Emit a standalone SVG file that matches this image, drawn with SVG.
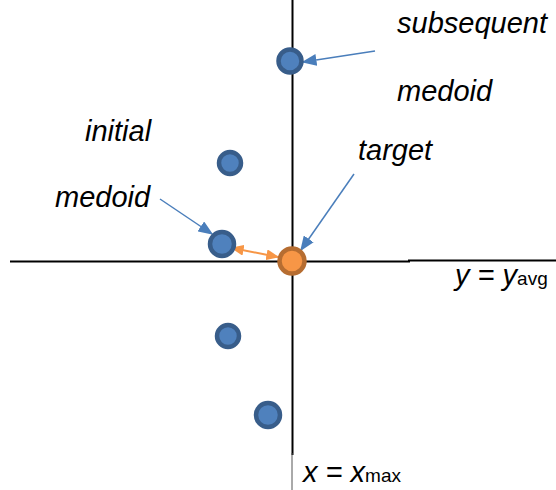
<svg xmlns="http://www.w3.org/2000/svg" width="556" height="490" viewBox="0 0 556 490">
<style>
.lbl{font-family:"Liberation Sans",Arial,sans-serif;font-style:italic;font-size:29px;fill:#000}
.sub{font-style:normal;font-size:19px}
.pt circle{fill:#4f81bd;stroke:#385d8a;stroke-width:4.5}
.tg circle{fill:#f79646;stroke:#b66d31;stroke-width:4.5}
.axis{stroke:#000;stroke-width:2;fill:none}
.ba{stroke:#4a7ebb;stroke-width:1.5;fill:none;marker-end:url(#ab)}
.oa{stroke:#f79646;stroke-width:2;fill:none;marker-end:url(#ao);marker-start:url(#aos)}
</style>
<defs>
<marker id="ab" viewBox="0 0 10 10" refX="9" refY="5" markerWidth="15" markerHeight="12" markerUnits="userSpaceOnUse" orient="auto" preserveAspectRatio="none"><path d="M0,0L10,5L0,10z" fill="#4a7ebb"/></marker>
<marker id="ao" viewBox="0 0 10 10" refX="9" refY="5" markerWidth="13" markerHeight="11" markerUnits="userSpaceOnUse" orient="auto" preserveAspectRatio="none"><path d="M0,0L10,5L0,10z" fill="#f79646"/></marker>
<marker id="aos" viewBox="0 0 10 10" refX="1" refY="5" markerWidth="13" markerHeight="11" markerUnits="userSpaceOnUse" orient="auto" preserveAspectRatio="none"><path d="M10,0L0,5L10,10z" fill="#f79646"/></marker>
</defs>
<g id="axes">
<line class="axis" x1="292.5" y1="0" x2="292.5" y2="455"/>
<line x1="292" y1="453" x2="292" y2="490" stroke="#555" stroke-width="1"/>
<line class="axis" x1="10" y1="261.5" x2="410" y2="261.5"/>
<line class="axis" x1="408" y1="260.5" x2="556" y2="260.5"/>
</g>
<g id="connectors">
<line class="ba" x1="375" y1="51" x2="303" y2="62"/>
<line class="ba" x1="354" y1="174" x2="301" y2="250"/>
<line class="ba" x1="160" y1="199" x2="212" y2="234"/>
<line class="oa" x1="232" y1="248" x2="278" y2="257"/>
</g>
<g id="node-subsequent" class="pt"><circle cx="290" cy="61" r="11.5"/></g>
<g id="node-p2" class="pt"><circle cx="230" cy="163" r="11"/></g>
<g id="node-initial" class="pt"><circle cx="222" cy="244" r="12"/></g>
<g id="node-target" class="tg"><circle cx="292" cy="261" r="12.5"/></g>
<g id="node-p4" class="pt"><circle cx="228" cy="336" r="11"/></g>
<g id="node-p5" class="pt"><circle cx="268" cy="415" r="12"/></g>
<g id="labels">
<text class="lbl" x="397" y="33">subsequent</text>
<text class="lbl" x="397" y="101">medoid</text>
<text class="lbl" x="85" y="141">initial</text>
<text class="lbl" x="55" y="207">medoid</text>
<text class="lbl" x="358" y="160">target</text>
<text class="lbl" x="455" y="285">y = y<tspan class="sub">avg</tspan></text>
<text class="lbl" x="303" y="482">x = x<tspan class="sub">max</tspan></text>
</g>
</svg>
